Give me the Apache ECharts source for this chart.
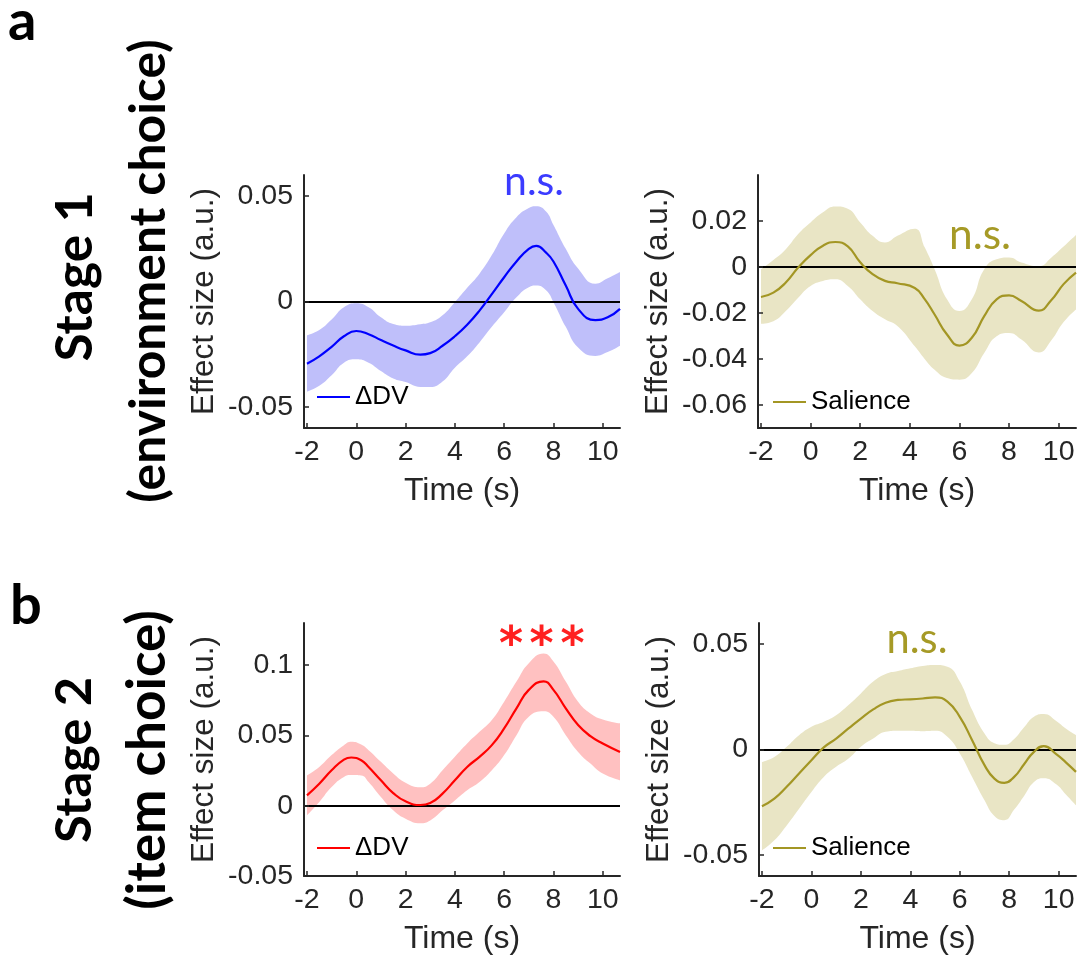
<!DOCTYPE html>
<html><head><meta charset="utf-8">
<script src="https://cdn.jsdelivr.net/npm/echarts@6/dist/echarts.min.js"></script>
<style>html,body{margin:0;padding:0;background:#fff}#c{width:1081px;height:957px}</style>
</head><body><div id="c"></div>
<script>
// ---------- data ----------
const xTicks = [-2,0,2,4,6,8,10];

// Stage 1, ΔDV
const s1DvTime  = [-2,-1.5,-1,-0.5,0,0.5,1,1.5,2,2.6,3,3.5,4,4.5,5,5.5,6,6.5,7,7.3,7.7,8,8.5,9,9.7,10.2,10.7];
const s1DvMean  = [-0.0295,-0.026,-0.0215,-0.0165,-0.014,-0.0155,-0.0183,-0.0209,-0.0232,-0.0252,-0.0245,-0.021,-0.0165,-0.011,-0.0043,0.0035,0.0115,0.019,0.025,0.0264,0.0232,0.019,0.0076,-0.0035,-0.0088,-0.0075,-0.0035];
const s1DvUpper = [-0.016,-0.0135,-0.0085,-0.0027,-0.0008,-0.0027,-0.0075,-0.0107,-0.0115,-0.0108,-0.0099,-0.0065,-0.0003,0.0065,0.0132,0.022,0.0323,0.040,0.0443,0.0452,0.0427,0.0363,0.025,0.0156,0.0084,0.011,0.014];
const s1DvLower = [-0.0428,-0.04,-0.035,-0.029,-0.0274,-0.029,-0.033,-0.0365,-0.0382,-0.0405,-0.0406,-0.038,-0.0314,-0.026,-0.0194,-0.012,-0.0051,0.002,0.0068,0.0076,0.0053,-0.0003,-0.012,-0.0218,-0.0258,-0.024,-0.021];
const s1DvTicks = [-0.05,0,0.05];

// Stage 1, Salience
const s1SalTime  = [-2,-1.5,-1,-0.5,0,0.5,1,1.5,2,2.5,3,3.5,4.2,4.6,5,5.5,6,6.5,7,7.5,8,8.5,9.2,9.7,10.2,10.7];
const s1SalMean  = [-0.0131,-0.0112,-0.0068,-0.0003,0.0051,0.0092,0.0108,0.0089,0.002,-0.0032,-0.0061,-0.0071,-0.0092,-0.014,-0.0207,-0.0294,-0.0342,-0.0308,-0.0214,-0.0141,-0.0124,-0.0148,-0.019,-0.0145,-0.0075,-0.0025];
const s1SalUpper = [-0.001,0.003,0.0077,0.0143,0.0193,0.0237,0.0262,0.0252,0.0193,0.0135,0.0106,0.0135,0.0166,0.0085,-0.001,-0.0141,-0.0192,-0.0141,-0.001,0.0033,0.0041,0.0019,0.0003,0.004,0.0088,0.0138];
const s1SalLower = [-0.0247,-0.0236,-0.0192,-0.0134,-0.0083,-0.0061,-0.0054,-0.0083,-0.0141,-0.0192,-0.0228,-0.0257,-0.0345,-0.040,-0.0447,-0.0483,-0.049,-0.0461,-0.0374,-0.0301,-0.0287,-0.0316,-0.0372,-0.032,-0.024,-0.0185];
const s1SalTicks = [-0.06,-0.04,-0.02,0,0.02];

// Stage 2, ΔDV
const s2DvTime  = [-2,-1.5,-1,-0.5,-0.2,0.2,0.5,1,1.5,2,2.6,3,3.5,4,4.5,5,5.5,6,6.5,7,7.6,8,8.5,9,9.5,10,10.7];
const s2DvMean  = [0.0074,0.0157,0.0252,0.0328,0.0343,0.0324,0.0276,0.0181,0.009,0.0031,0.0005,0.0019,0.0086,0.0181,0.0276,0.0348,0.0431,0.055,0.0693,0.0824,0.0885,0.0824,0.0693,0.0574,0.0495,0.0443,0.0383];
const s2DvUpper = [0.0217,0.0276,0.036,0.0431,0.0455,0.0435,0.0395,0.0312,0.0229,0.0164,0.0132,0.0157,0.0252,0.0348,0.0443,0.0526,0.061,0.074,0.0883,0.1014,0.1083,0.1026,0.0883,0.074,0.0657,0.0614,0.0586];
const s2DvLower = [-0.0069,0.0026,0.0133,0.0205,0.0218,0.0215,0.0169,0.0062,-0.0033,-0.0093,-0.0125,-0.0105,-0.0033,0.0038,0.011,0.0169,0.0252,0.036,0.0502,0.0633,0.0672,0.0633,0.0502,0.0383,0.03,0.0229,0.0181];
const s2DvTicks = [-0.05,0,0.05,0.1];

// Stage 2, Salience
const s2SalTime  = [-2,-1.5,-1,-0.5,0,0.5,1,1.5,2,2.5,3,3.5,4,4.5,5,5.5,6,6.5,7,7.4,7.8,8.2,8.6,9,9.4,9.9,10.3,10.7];
const s2SalMean  = [-0.0269,-0.0233,-0.0177,-0.0114,-0.0051,0.001,0.0052,0.01,0.0147,0.019,0.0222,0.0235,0.0238,0.0242,0.0247,0.0227,0.0155,0.0044,-0.0074,-0.0138,-0.0158,-0.013,-0.007,-0.0011,0.0016,-0.0022,-0.0062,-0.0106];
const s2SalUpper = [-0.0059,-0.0035,0.0013,0.0068,0.0108,0.0132,0.0163,0.0211,0.0266,0.0322,0.0358,0.0372,0.0385,0.0396,0.0401,0.0393,0.0322,0.0187,0.0076,0.003,0.0022,0.005,0.0105,0.0155,0.0168,0.0135,0.0098,0.0068];
const s2SalLower = [-0.0479,-0.0431,-0.036,-0.0281,-0.0201,-0.013,-0.0082,-0.0043,0.0013,0.0052,0.0084,0.0089,0.0089,0.0087,0.0089,0.006,-0.0019,-0.013,-0.0241,-0.0315,-0.0335,-0.0285,-0.022,-0.0154,-0.0136,-0.0165,-0.0215,-0.0265];
const s2SalTicks = [-0.05,0,0.05];

// ---------- layout / style ----------
const AX = '#262626';
const TF = 'Liberation Sans';
const panels = [
  {name:'ΔDV|1', t:s1DvTime, mean:s1DvMean, up:s1DvUpper, lo:s1DvLower, ticks:s1DvTicks, ymin:-0.06, ymax:0.06,
   line:'#0000ff', band:'#bfbffa', grid:{left:304, top:175, width:316, height:253}, legend:{left:317, top:384}},
  {name:'Salience|1', t:s1SalTime, mean:s1SalMean, up:s1SalUpper, lo:s1SalLower, ticks:s1SalTicks, ymin:-0.07, ymax:0.0399,
   line:'#a39624', band:'#e9e5c5', grid:{left:758, top:175, width:318, height:253}, legend:{left:773, top:389}},
  {name:'ΔDV|2', t:s2DvTime, mean:s2DvMean, up:s2DvUpper, lo:s2DvLower, ticks:s2DvTicks, ymin:-0.05, ymax:0.13,
   line:'#ff0000', band:'#ffc1c1', grid:{left:304, top:623, width:316, height:253}, legend:{left:317, top:835}},
  {name:'Salience|2', t:s2SalTime, mean:s2SalMean, up:s2SalUpper, lo:s2SalLower, ticks:s2SalTicks, ymin:-0.06, ymax:0.06,
   line:'#a39624', band:'#e9e5c5', grid:{left:759, top:623, width:317, height:253}, legend:{left:773, top:835}}
];

const zip = (xs, ys) => xs.map((x, i) => [x, ys[i]]);
const fmt = v => String(+Number(v).toFixed(3));

const grids = [], xAxes = [], yAxes = [], series = [], legends = [];
panels.forEach((p, i) => {
  grids.push(Object.assign({outerBoundsMode:'none', containLabel:false}, p.grid));
  xAxes.push({
    type:'value', gridIndex:i, min:-2.12, max:10.7, z:20,
    axisLine:{show:true, onZero:false, lineStyle:{color:AX, width:2}},
    axisTick:{show:true, inside:true, length:5, customValues:xTicks, lineStyle:{color:AX, width:1.5}},
    axisLabel:{customValues:xTicks, fontSize:28.5, fontFamily:TF, color:AX, margin:10, formatter:fmt},
    splitLine:{show:false},
    name:'Time (s)', nameLocation:'middle', nameGap:47,
    nameTextStyle:{fontSize:32, fontFamily:TF, color:AX}
  });
  yAxes.push({
    type:'value', gridIndex:i, min:p.ymin, max:p.ymax, z:20,
    axisLine:{show:true, onZero:false, lineStyle:{color:AX, width:2}},
    axisTick:{show:true, inside:true, length:5, customValues:p.ticks, lineStyle:{color:AX, width:1.5}},
    axisLabel:{customValues:p.ticks, fontSize:28.5, fontFamily:TF, color:AX, margin:11, formatter:fmt},
    splitLine:{show:false},
    name:'Effect size (a.u.)', nameLocation:'middle', nameGap:84, nameRotate:90,
    nameTextStyle:{fontSize:31.5, fontFamily:TF, color:AX}
  });
  // band: upper edge filled with band colour, lower edge filled with white on top of it
  series.push({
    type:'line', name:'up'+i, xAxisIndex:i, yAxisIndex:i, data:zip(p.t, p.up),
    smooth:true, symbol:'none', silent:true, lineStyle:{opacity:0}, z:1,
    areaStyle:{color:p.band, opacity:1, origin:'start'}
  });
  series.push({
    type:'line', name:'lo'+i, xAxisIndex:i, yAxisIndex:i, data:zip(p.t, p.lo),
    smooth:true, symbol:'none', silent:true, lineStyle:{opacity:0}, z:2,
    areaStyle:{color:'#ffffff', opacity:1, origin:'start'}
  });
  series.push({
    type:'line', name:p.name, xAxisIndex:i, yAxisIndex:i, data:zip(p.t, p.mean),
    smooth:true, symbol:'none', silent:true, z:10,
    lineStyle:{color:p.line, width:2.2}, itemStyle:{color:p.line},
    markLine:{silent:true, symbol:'none', label:{show:false}, animation:false, z:5,
      lineStyle:{color:'#000', width:2, type:'solid'}, emphasis:{disabled:true}, data:[{yAxis:0}]}
  });
  legends.push({
    data:[p.name], left:p.legend.left, top:p.legend.top, padding:0, selectedMode:false,
    icon:'rect', itemWidth:33, itemHeight:2, itemGap:0, z:30,
    formatter: n => n.split('|')[0],
    textStyle:{fontSize:26, fontFamily:TF, color:'#000'}
  });
});

// fit label text to a measured length
const mctx = document.createElement('canvas').getContext('2d');
function fit(text, family, weight, len) {
  mctx.font = weight + ' 100px ' + family;
  return 100 * len / mctx.measureText(text).width;
}
const LF = 'Lato';
function label(text, x, y, len, fill, opts) {
  const fs = fit(text, LF, 'bold', len);
  return Object.assign({
    type:'text', x:x, y:y, silent:true, z:100,
    style:{text:text, fill:fill, font:'bold ' + fs.toFixed(1) + 'px ' + LF, align:'center', verticalAlign:'middle'}
  }, opts || {});
}
function plain(text, x, y, len, fill) {
  const fs = fit(text, LF, 'normal', len);
  return {type:'text', x:x, y:y, silent:true, z:100,
    style:{text:text, fill:fill, font:fs.toFixed(1) + 'px ' + LF, align:'center', verticalAlign:'middle'}};
}
function star(x, y) {
  return {type:'text', x:x, y:y, silent:true, z:100,
    style:{text:'*', fill:'#ff2020', font:'bold 46px DejaVu Sans', align:'center', verticalAlign:'middle'}};
}
const R = Math.PI / 2;
const graphics = [
  {type:'text', x:8, y:22, silent:true, z:100, style:{text:'a', fill:'#000', font:'bold 56px ' + LF, align:'left', verticalAlign:'middle'}},
  {type:'text', x:10, y:606, silent:true, z:100, style:{text:'b', fill:'#000', font:'bold 56px ' + LF, align:'left', verticalAlign:'middle'}},
  label('Stage 1', 75, 277, 169, '#000', {rotation:R}),
  label('(environment choice)', 149, 271, 463, '#000', {rotation:R}),
  label('Stage 2', 75, 760, 166, '#000', {rotation:R}),
  label('(item choice)', 148, 760, 300, '#000', {rotation:R}),
  plain('n.s.', 534, 182, 60, '#3b3bff'),
  plain('n.s.', 980, 235, 62, '#a69a26'),
  plain('n.s.', 917, 640, 61, '#a69a26'),
  star(511, 647.5), star(541.5, 647.5), star(572.5, 647.5)
];

const chart = echarts.init(document.getElementById('c'), null, {renderer:'canvas'});
chart.setOption({
  animation:false,
  backgroundColor:'#fff',
  grid:grids, xAxis:xAxes, yAxis:yAxes, series:series, legend:legends,
  graphic:graphics
});
</script></body></html>
